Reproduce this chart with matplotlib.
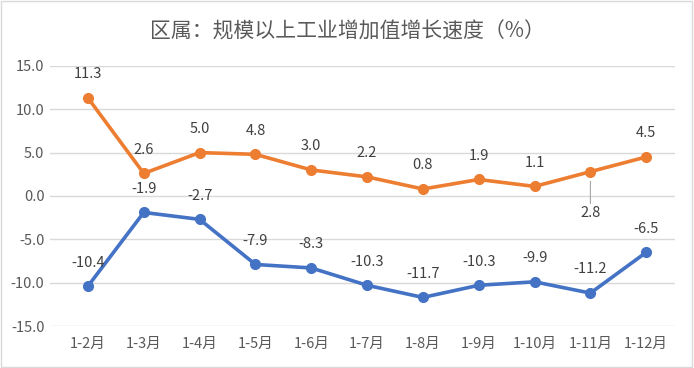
import matplotlib.pyplot as plt
from matplotlib.patches import Rectangle

plt.rcParams['font.family'] = ['Noto Sans CJK SC', 'DejaVu Sans']

months = ["1-2月", "1-3月", "1-4月", "1-5月", "1-6月", "1-7月",
          "1-8月", "1-9月", "1-10月", "1-11月", "1-12月"]
orange_vals = [11.3, 2.6, 5.0, 4.8, 3.0, 2.2, 0.8, 1.9, 1.1, 2.8, 4.5]
blue_vals = [-10.4, -1.9, -2.7, -7.9, -8.3, -10.3, -11.7, -10.3, -9.9, -11.2, -6.5]

orange = "#ED7D31"
blue = "#4472C4"
txt = "#595959"

fig = plt.figure(figsize=(6.94, 3.68), dpi=100)
ax = fig.add_axes([0.072, 0.114, 0.901, 0.707])

x = list(range(len(months)))
ax.plot(x, orange_vals, color=orange, lw=2.6, marker='o', markersize=7, zorder=3)
ax.plot(x, blue_vals, color=blue, lw=2.6, marker='o', markersize=7, zorder=3)

# labels above the points
for i, v in enumerate(orange_vals):
    if i == 9:
        # this one sits below with a leader line
        ax.annotate(f"{v:.1f}", (i, v), xytext=(0, -30), textcoords='offset points',
                    ha='center', va='center', fontsize=10.5, color='#404040',
                    arrowprops=dict(arrowstyle='-', color='#a6a6a6', lw=0.8,
                                    shrinkA=0, shrinkB=7))
    else:
        ax.annotate(f"{v:.1f}", (i, v), xytext=(0, 17), textcoords='offset points',
                    ha='center', va='center', fontsize=10.5, color='#404040')
for i, v in enumerate(blue_vals):
    ax.annotate(f"{v:.1f}", (i, v), xytext=(0, 17), textcoords='offset points',
                ha='center', va='center', fontsize=10.5, color='#404040')

ax.set_ylim(-15, 15)
ax.set_xlim(-0.68, 10.52)
ax.set_yticks([-15, -10, -5, 0, 5, 10, 15])
ax.set_yticklabels([f"{t:.1f}" for t in [-15, -10, -5, 0, 5, 10, 15]])
ax.set_xticks(x)
ax.set_xticklabels(months)
ax.tick_params(axis='both', length=0, labelsize=10.5, colors=txt)
ax.tick_params(axis='x', pad=8)
ax.tick_params(axis='y', pad=4)
ax.grid(axis='y', color='#d9d9d9', lw=1)
ax.set_axisbelow(True)
for s in ax.spines.values():
    s.set_visible(False)

fig.text(0.5, 0.915, "区属：规模以上工业增加值增长速度（%）", ha='center', va='center',
         fontsize=15, color=txt)

fig.patches.append(Rectangle((0.002, 0.003), 0.995, 0.993, transform=fig.transFigure,
                             fill=False, edgecolor='#d9d9d9', lw=1))

plt.savefig("out.png")
